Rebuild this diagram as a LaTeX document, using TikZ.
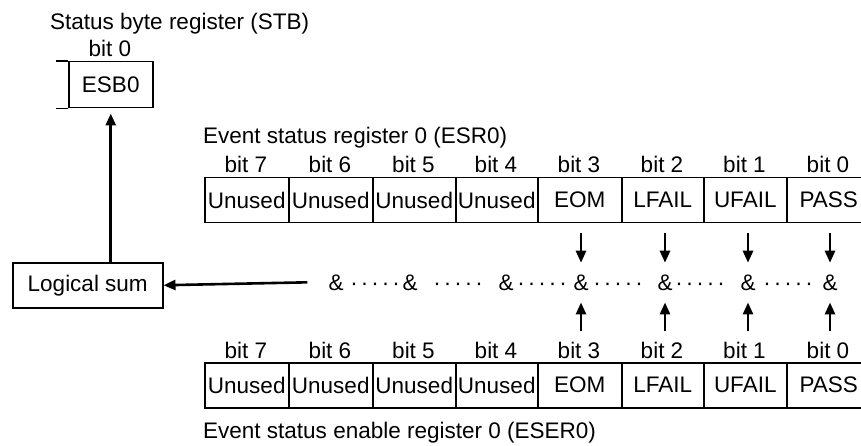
\documentclass[tikz,border=0pt]{standalone}
\usepackage{fontspec}
\setmainfont{Liberation Sans}
\usetikzlibrary{arrows.meta}
\begin{document}
\begin{tikzpicture}[x=1pt,y=-1pt,
  every node/.style={font=\fontsize{22.5}{26}\selectfont, inner sep=0pt},
  box/.style={draw, line width=1.5pt, minimum height=45pt},
  arr/.style={line width=2.6pt, -{Triangle[length=12pt,width=10pt]}},
  dotmark/.style={anchor=base},
]
\useasboundingbox (0,0) rectangle (861,446);
\clip (0,0) rectangle (861,446);

% Status byte register
\node[anchor=base west] (stbt) at (50,30) {Status byte register (STB)};
\node[box, minimum width=84pt, minimum height=46pt, anchor=north west] (esb) at (68,61) {ESB0};
\node[anchor=base] (esbbit) at (110,57) {bit 0};
\draw[line width=1.5pt] (esb.north west) -- ++(-12,0) (esb.south west) -- ++(-12,0);

% Logical sum
\node[box, minimum width=150pt, minimum height=45pt, anchor=north west] (ls) at (12,262) {Logical sum};

% Titles
\node[anchor=base west] (esrt) at (203,144) {Event status register 0 (ESR0)};
\node[anchor=base west] (esert) at (203,438) {Event status enable register 0 (ESER0)};

% Registers
\foreach \l/\w/\t/\n in {204/84/Unused/7, 288/84/Unused/6, 372/83/Unused/5, 455/82/Unused/4, 537/84/EOM/3, 621/82/LFAIL/2, 703/83/UFAIL/1, 786/84/PASS/0} {
  \pgfmathsetmacro\cx{\l+\w/2}
  \node[box, minimum width=\w pt, anchor=north west] (r\n) at (\l,177) {\t};
  \node[anchor=base] (rb\n) at (\cx,173) {bit \n};
  \node[box, minimum width=\w pt, anchor=north west] (e\n) at (\l,362) {\t};
  \node[anchor=base] (eb\n) at (\cx,358) {bit \n};
}

% AND chain
\foreach \x/\n in {336/6, 410/5, 506/4, 581/3, 665/2, 748/1, 830/0} {
  \node[anchor=base] (a\n) at (\x,290) {\&};
}
\foreach \c/\g in {375/1, 458/2, 542/3, 618/4, 700/5, 788/6} {
  \foreach \k in {-2,-1,0,1,2} {
    \node[dotmark] (d\g\k) at (\c+\k*10.5,290) {·};
  }
}

% arrows from registers to AND gates
\foreach \n in {3,2,1,0} {
  \coordinate (dt\n) at (a\n.north |- r\n.south);
  \coordinate (ut\n) at (a\n.south |- eb\n.north);
  \draw[arr] ([yshift=-10pt]dt\n) -- ([yshift=11.5pt]a\n.north);
  \draw[arr] ([yshift=10pt]ut\n) -- ([yshift=-12pt]a\n.south);
}

% to logical sum
\draw[arr] ([xshift=-21pt]a6.west) -- (ls.east);
\coordinate (lstop) at (ls.north -| esb.south);
\draw[arr] (lstop) -- ([yshift=-5pt]esb.south);
\end{tikzpicture}
\end{document}
